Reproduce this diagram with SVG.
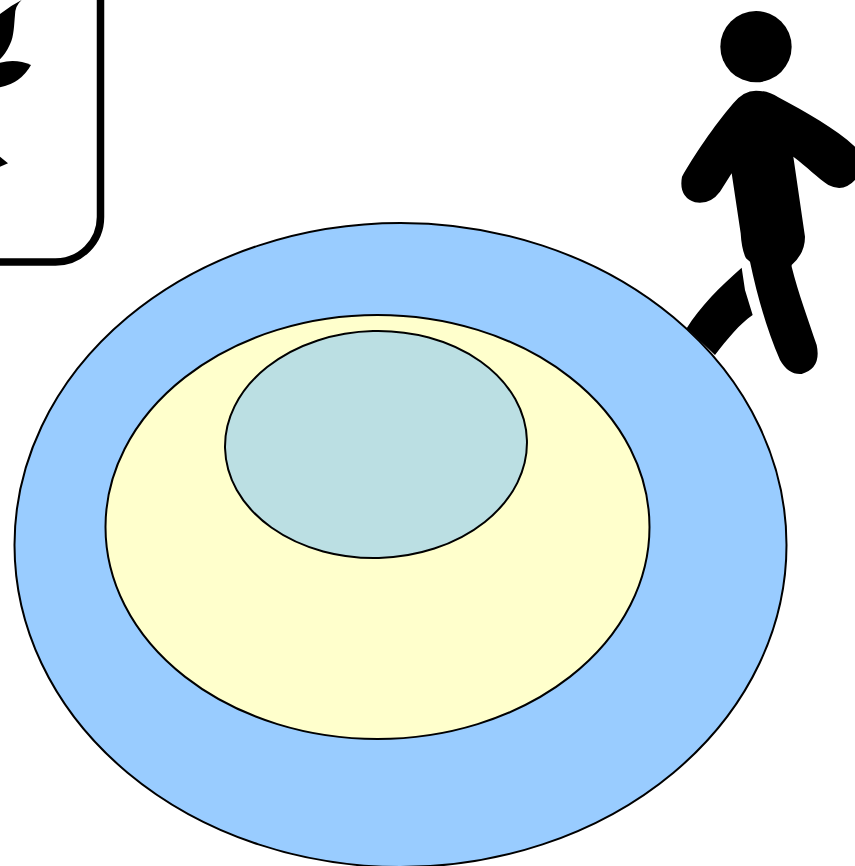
<svg xmlns="http://www.w3.org/2000/svg" width="855" height="866" viewBox="0 0 855 866">
<style>
.ring{stroke:#000;stroke-width:2}
.ink{fill:#000;stroke:none}
</style>
<rect width="855" height="866" fill="#fff"/>
<g id="plant-card">
<rect x="-100" y="-100" width="200.500" height="362" rx="45" ry="45" fill="none" stroke="#000" stroke-width="7.500"/>
<g transform="scale(0.33333)">
<path class="ink" d="M65,0 Q45,18 45,45 C42,75 42,110 30,133 Q18,160 0,178 L0,42 Q30,18 65,0Z"/>
<path class="ink" d="M0,188 Q50,176 93,195 Q62,250 0,262Z"/>
<path class="ink" d="M0,470 L24,490 L0,500Z"/>
</g>
</g>
<g id="walker" transform="translate(670 0) scale(0.33333)">
<circle class="ink" cx="258" cy="140" r="107"/>
<path class="ink" d="M190,310 Q220,272 258,272 Q295,272 325,292 C410,338 495,385 555,440 L555,540 Q520,578 475,555 C445,535 410,500 370,470 L405,710 Q405,760 365,795 L365,800 C385,880 415,960 440,1035 Q455,1105 395,1122 Q355,1125 330,1080 C290,990 260,880 240,785 L228,775 Q215,750 212,700 L185,520 L150,575 Q120,615 75,607 Q25,590 36,530 C70,470 130,380 190,310Z"/>
<path class="ink" d="M215,803 L225,870 L248,945 C210,970 170,1020 135,1065 L50,985 C90,920 150,860 215,803Z"/>
</g>
<g id="outer-ring"><ellipse class="ring" cx="400.500" cy="545" rx="386" ry="322" fill="#99ccff"/></g>
<g id="middle-ring"><ellipse class="ring" cx="377.500" cy="527" rx="272" ry="212" fill="#ffffcc"/></g>
<g id="inner-ring"><ellipse class="ring" cx="376" cy="444.500" rx="151" ry="113.500" transform="rotate(-1.500 376 444.500)" fill="#bbdfe3"/></g>
<g id="connectors"></g>
</svg>
